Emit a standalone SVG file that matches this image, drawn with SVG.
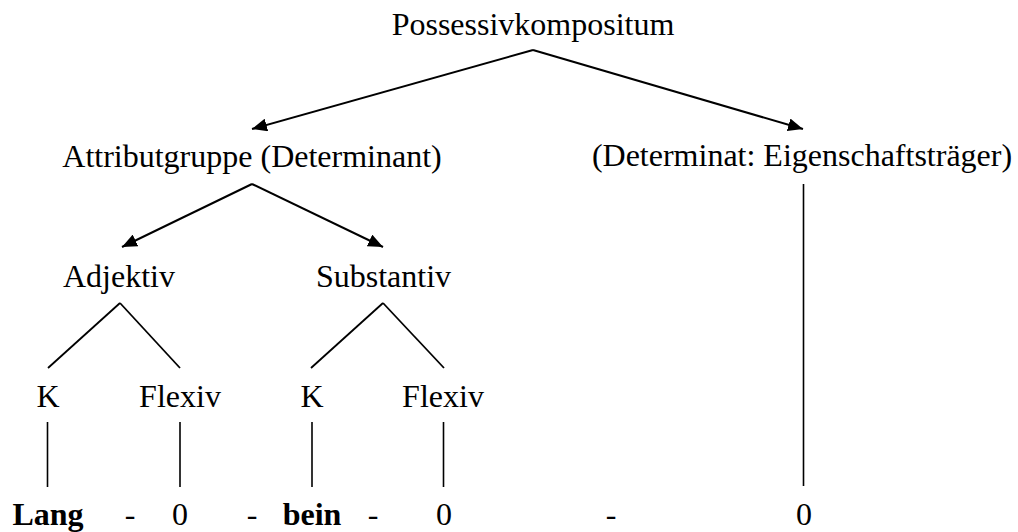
<svg xmlns="http://www.w3.org/2000/svg" width="1018" height="532" viewBox="0 0 1018 532">
<style>
text{font-family:"Liberation Serif","Times New Roman",serif;font-size:32px;fill:#000;text-anchor:middle}
.b{font-weight:bold}
.c line{stroke:#000;stroke-width:2;fill:none}
.c line.t{stroke-width:1.8}
.c line.v{stroke-width:1.6}
</style>
<defs>
<marker id="ah" markerUnits="userSpaceOnUse" markerWidth="16" markerHeight="13" refX="15" refY="6.5" orient="auto">
<path d="M0,0 L15,6.5 L0,13 z" fill="#000"/>
</marker>
</defs>
<rect width="1018" height="532" fill="#fff"/>
<g class="c" id="connectors">
<line x1="533" y1="50" x2="252" y2="129" marker-end="url(#ah)"/>
<line x1="533" y1="50" x2="803" y2="129" marker-end="url(#ah)"/>
<line x1="252" y1="184" x2="122" y2="247" marker-end="url(#ah)"/>
<line x1="252" y1="184" x2="383" y2="247" marker-end="url(#ah)"/>
<line class="t" x1="120" y1="303" x2="48" y2="368"/>
<line class="t" x1="120" y1="303" x2="180" y2="368"/>
<line class="t" x1="383" y1="303" x2="311" y2="368"/>
<line class="t" x1="383" y1="303" x2="444" y2="368"/>
<line class="v" x1="47.5" y1="422" x2="47.5" y2="487"/>
<line class="v" x1="180" y1="422" x2="180" y2="487"/>
<line class="v" x1="312" y1="422" x2="312" y2="487"/>
<line class="v" x1="443.5" y1="422" x2="443.5" y2="487"/>
<line class="v" x1="803.5" y1="184" x2="803.5" y2="486"/>
</g>
<g id="n-possessivkompositum"><text x="533" y="35">Possessivkompositum</text></g>
<g id="n-attributgruppe"><text x="252" y="167">Attributgruppe (Determinant)</text></g>
<g id="n-determinat"><text x="802" y="166">(Determinat: Eigenschaftsträger)</text></g>
<g id="n-adjektiv"><text x="119" y="287">Adjektiv</text></g>
<g id="n-substantiv"><text x="383.5" y="287">Substantiv</text></g>
<g id="n-k1"><text x="48" y="407">K</text></g>
<g id="n-flexiv1"><text x="180" y="407">Flexiv</text></g>
<g id="n-k2"><text x="312" y="407">K</text></g>
<g id="n-flexiv2"><text x="443" y="407">Flexiv</text></g>
<g id="n-lang"><text class="b" x="48" y="525">Lang</text></g>
<g id="n-dash1"><text x="130" y="525">-</text></g>
<g id="n-zero1"><text x="180" y="525">0</text></g>
<g id="n-dash2"><text x="252" y="525">-</text></g>
<g id="n-bein"><text class="b" x="312" y="525">bein</text></g>
<g id="n-dash3"><text x="373" y="525">-</text></g>
<g id="n-zero2"><text x="444" y="525">0</text></g>
<g id="n-dash4"><text x="611" y="525">-</text></g>
<g id="n-zero3"><text x="804" y="525">0</text></g>
</svg>
